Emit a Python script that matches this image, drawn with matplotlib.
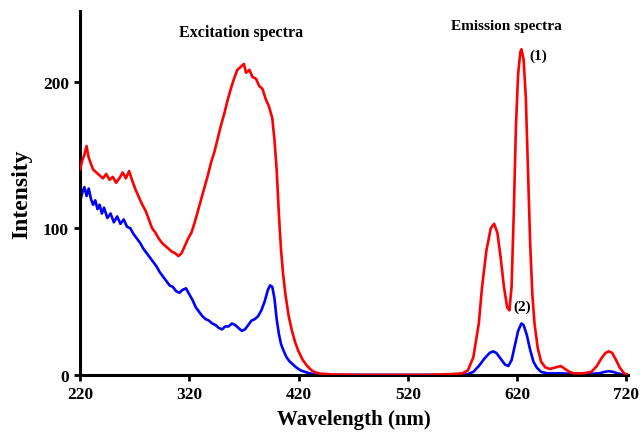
import matplotlib
matplotlib.use("Agg")
import matplotlib.pyplot as plt

PLOT_XLABEL = "Wavelength (nm)"
PLOT_YLABEL = "Intensity"
FONT_FAMILY = "Liberation Serif"
LINE_WIDTH = 1.9

# curve (1), red: excitation band then emission band
red_wavelength = [220, 222, 224, 226, 228, 230, 232, 235, 238, 241, 244, 247, 250, 253, 256, 259, 262, 265,
                  268, 271, 274, 277, 280, 283, 286, 289, 292, 295, 298, 301, 304, 307, 310, 313, 316, 319,
                  322, 325, 328, 331, 334, 337, 340, 343, 346, 349, 352, 355, 358, 361, 364, 367, 370, 372,
                  375, 378, 381, 384, 387, 390, 393, 396, 398, 400, 402, 404, 406, 408, 411, 414, 417, 420,
                  424, 428, 432, 436, 440, 450, 470, 500, 540, 560, 570, 575, 580, 585, 588, 592, 596, 599,
                  602, 605, 608, 611, 613, 615, 617, 619, 621, 623, 624, 626, 628, 630, 632, 634, 636, 639,
                  642, 646, 650, 655, 660, 664, 668, 672, 680, 688, 693, 697, 701, 704, 707, 710, 714, 718, 722]
red_intensity = [140, 146, 150, 156, 148, 144, 140, 138, 136, 134, 137, 133, 135, 131, 134, 138, 134, 139,
                 132, 126, 121, 116, 112, 106, 100, 97, 93, 90, 88, 86, 84, 83, 81, 83, 88, 93,
                 97, 104, 112, 120, 128, 136, 145, 152, 161, 170, 178, 187, 195, 202, 208, 210, 212, 206,
                 208, 203, 202, 197, 195, 188, 183, 175, 160, 140, 110, 85, 68, 55, 40, 30, 22, 16,
                 10, 6, 3, 1.5, 0.8, 0.3, 0, 0, 0, 0.5, 1, 3, 12, 35, 60, 85, 100, 103,
                 97, 80, 60, 46, 44, 60, 110, 170, 205, 220, 222, 215, 190, 140, 90, 55, 35, 18,
                 9, 5, 4, 5, 6, 4, 2, 1, 1, 2, 6, 11, 15, 16, 15, 11, 5, 1, 0]

# curve (2), blue
blue_wavelength = [220, 222, 224, 226, 228, 230, 232, 234, 236, 238, 240, 242, 245, 248, 251, 254, 257, 260,
                   263, 266, 269, 272, 275, 278, 281, 284, 287, 290, 293, 296, 299, 302, 305, 308, 311, 314,
                   317, 320, 323, 326, 329, 332, 335, 338, 341, 344, 347, 350, 353, 356, 359, 362, 365, 368,
                   371, 374, 377, 380, 383, 386, 389, 392, 394, 396, 398, 400, 402, 404, 406, 409, 412, 415,
                   418, 422, 426, 430, 435, 440, 500, 570, 575, 580, 585, 590, 595, 598, 601, 605, 609, 612,
                   615, 618, 621, 624, 626, 629, 632, 635, 638, 642, 648, 660, 680, 695, 700, 704, 708, 712,
                   718, 722]
blue_intensity = [118, 124, 128, 122, 127, 120, 116, 119, 113, 116, 110, 114, 107, 110, 104, 108, 103, 106,
                  101, 100, 96, 93, 90, 86, 83, 80, 77, 74, 70, 67, 64, 61, 60, 57, 56, 58,
                  59, 55, 51, 46, 43, 40, 38, 37, 35, 34, 32, 31, 33, 33, 35, 34, 32, 30,
                  31, 34, 37, 38, 40, 44, 50, 58, 61, 60, 52, 38, 28, 21, 17, 12, 9, 7,
                  5, 3, 2, 1, 0.5, 0, 0, 0, 0.5, 2, 6, 11, 15, 16, 15, 11, 7, 6,
                  10, 20, 30, 35, 34, 27, 17, 9, 5, 2, 1, 1, 0.5, 1, 2, 2.5, 2, 1,
                  0, 0]

x_ticks = [220, 320, 420, 520, 620, 720]
y_ticks = [0, 100, 200]

plt.rcParams["font.family"] = FONT_FAMILY
plt.rcParams["font.weight"] = "bold"

fig = plt.figure(figsize=(6.4, 4.35), dpi=100)
ax = fig.add_axes([0.125, 0.136, 0.857, 0.836])

ax.plot(red_wavelength, red_intensity, color="#ff0000", linewidth=LINE_WIDTH, zorder=3)
ax.plot(blue_wavelength, blue_intensity, color="#0000ff", linewidth=LINE_WIDTH, zorder=2)

ax.set_xlim(220, 722)
ax.set_ylim(0, 248)
ax.set_xticks(x_ticks)
ax.set_yticks(y_ticks)
ax.tick_params(labelsize=12.5, width=2, length=4, direction="out", pad=4)
for label in ax.get_xticklabels() + ax.get_yticklabels():
  label.set_fontweight("bold")

for side in ["top", "right"]:
  ax.spines[side].set_visible(False)
for side in ["left", "bottom"]:
  ax.spines[side].set_linewidth(2.2)

# the source crops this label at the bottom edge; keep it just inside here
ax.set_xlabel(PLOT_XLABEL, fontsize=15, fontweight="bold", labelpad=5)
ax.set_ylabel(PLOT_YLABEL, fontsize=17, fontweight="bold", labelpad=8)

ax.text(367, 234, "Excitation spectra", fontsize=11.5, fontweight="bold", ha="center", va="center")
ax.text(610, 238, "Emission spectra", fontsize=11, fontweight="bold", ha="center", va="center")
ax.text(631, 218, "(1)", fontsize=11, fontweight="bold", ha="left", va="center")
ax.text(625, 47, "(2)", fontsize=11, fontweight="bold", ha="center", va="center")

fig.savefig("out.png", dpi=100)
